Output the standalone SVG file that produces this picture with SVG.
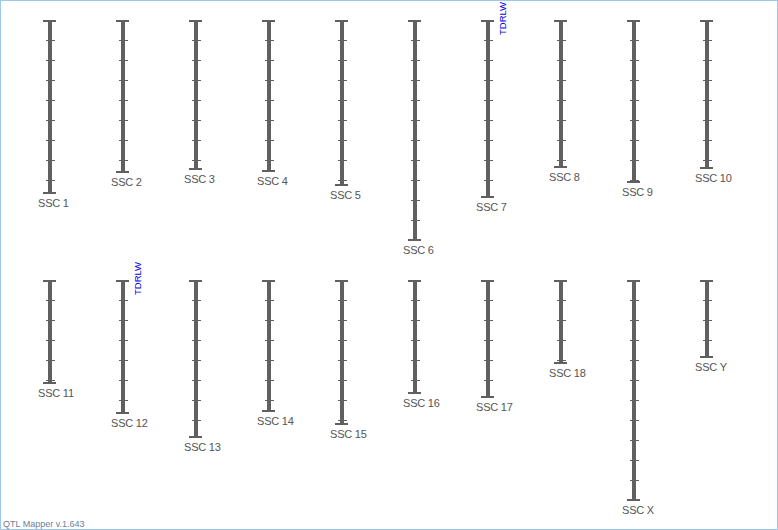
<svg xmlns="http://www.w3.org/2000/svg" width="778" height="530" viewBox="0 0 778 530">
<style>
.bar{fill:#606060}
.tk{stroke:#606060;stroke-width:1;fill:none}
.lbl{font-family:"Liberation Sans",Arial,sans-serif;font-size:11px;fill:#555;letter-spacing:-0.2px}
.qtl{font-family:"Liberation Sans",Arial,sans-serif;font-size:9.5px;fill:#0000ee}
.foot{font-family:"Liberation Sans",Arial,sans-serif;font-size:9px;fill:#687f96}
</style>
<rect x="0.5" y="0.5" width="777" height="529" fill="#fff" stroke="#9cc8ee" stroke-width="1"/>
<g id="connectors"/>
<g id="ssc1"><rect class="bar" x="48" y="20" width="4" height="174"/><rect class="bar" x="43" y="20" width="13" height="2"/><rect class="bar" x="43" y="192" width="13" height="2"/><path class="tk" d="M46 40.5h9M46 60.5h9M46 80.5h9M46 100.5h9M46 120.5h9M46 140.5h9M46 160.5h9M46 180.5h9"/><text class="lbl" x="38" y="207">SSC 1</text></g>
<g id="ssc2"><rect class="bar" x="121" y="20" width="4" height="153"/><rect class="bar" x="116" y="20" width="13" height="2"/><rect class="bar" x="116" y="171" width="13" height="2"/><path class="tk" d="M119 40.5h9M119 60.5h9M119 80.5h9M119 100.5h9M119 120.5h9M119 140.5h9M119 160.5h9"/><text class="lbl" x="111" y="186">SSC 2</text></g>
<g id="ssc3"><rect class="bar" x="194" y="20" width="4" height="150"/><rect class="bar" x="189" y="20" width="13" height="2"/><rect class="bar" x="189" y="168" width="13" height="2"/><path class="tk" d="M192 40.5h9M192 60.5h9M192 80.5h9M192 100.5h9M192 120.5h9M192 140.5h9M192 160.5h9"/><text class="lbl" x="184" y="183">SSC 3</text></g>
<g id="ssc4"><rect class="bar" x="267" y="20" width="4" height="152"/><rect class="bar" x="262" y="20" width="13" height="2"/><rect class="bar" x="262" y="170" width="13" height="2"/><path class="tk" d="M265 40.5h9M265 60.5h9M265 80.5h9M265 100.5h9M265 120.5h9M265 140.5h9M265 160.5h9"/><text class="lbl" x="257" y="185">SSC 4</text></g>
<g id="ssc5"><rect class="bar" x="340" y="20" width="4" height="166"/><rect class="bar" x="335" y="20" width="13" height="2"/><rect class="bar" x="335" y="184" width="13" height="2"/><path class="tk" d="M338 40.5h9M338 60.5h9M338 80.5h9M338 100.5h9M338 120.5h9M338 140.5h9M338 160.5h9M338 180.5h9"/><text class="lbl" x="330" y="199">SSC 5</text></g>
<g id="ssc6"><rect class="bar" x="413" y="20" width="4" height="221"/><rect class="bar" x="408" y="20" width="13" height="2"/><rect class="bar" x="408" y="239" width="13" height="2"/><path class="tk" d="M411 40.5h9M411 60.5h9M411 80.5h9M411 100.5h9M411 120.5h9M411 140.5h9M411 160.5h9M411 180.5h9M411 200.5h9M411 220.5h9"/><text class="lbl" x="403" y="254">SSC 6</text></g>
<g id="ssc7"><rect class="bar" x="486" y="20" width="4" height="178"/><rect class="bar" x="481" y="20" width="13" height="2"/><rect class="bar" x="481" y="196" width="13" height="2"/><path class="tk" d="M484 40.5h9M484 60.5h9M484 80.5h9M484 100.5h9M484 120.5h9M484 140.5h9M484 160.5h9M484 180.5h9"/><text class="lbl" x="476" y="211">SSC 7</text><text class="qtl" transform="translate(505.5 35) rotate(-90)">TDRLW</text></g>
<g id="ssc8"><rect class="bar" x="559" y="20" width="4" height="148"/><rect class="bar" x="554" y="20" width="13" height="2"/><rect class="bar" x="554" y="166" width="13" height="2"/><path class="tk" d="M557 40.5h9M557 60.5h9M557 80.5h9M557 100.5h9M557 120.5h9M557 140.5h9M557 160.5h9"/><text class="lbl" x="549" y="181">SSC 8</text></g>
<g id="ssc9"><rect class="bar" x="632" y="20" width="4" height="163"/><rect class="bar" x="627" y="20" width="13" height="2"/><rect class="bar" x="627" y="181" width="13" height="2"/><path class="tk" d="M630 40.5h9M630 60.5h9M630 80.5h9M630 100.5h9M630 120.5h9M630 140.5h9M630 160.5h9M630 180.5h9"/><text class="lbl" x="622" y="196">SSC 9</text></g>
<g id="ssc10"><rect class="bar" x="705" y="20" width="4" height="149"/><rect class="bar" x="700" y="20" width="13" height="2"/><rect class="bar" x="700" y="167" width="13" height="2"/><path class="tk" d="M703 40.5h9M703 60.5h9M703 80.5h9M703 100.5h9M703 120.5h9M703 140.5h9M703 160.5h9"/><text class="lbl" x="695" y="182">SSC 10</text></g>
<g id="ssc11"><rect class="bar" x="48" y="280" width="4" height="104"/><rect class="bar" x="43" y="280" width="13" height="2"/><rect class="bar" x="43" y="382" width="13" height="2"/><path class="tk" d="M46 300.5h9M46 320.5h9M46 340.5h9M46 360.5h9M46 380.5h9"/><text class="lbl" x="38" y="397">SSC 11</text></g>
<g id="ssc12"><rect class="bar" x="121" y="280" width="4" height="134"/><rect class="bar" x="116" y="280" width="13" height="2"/><rect class="bar" x="116" y="412" width="13" height="2"/><path class="tk" d="M119 300.5h9M119 320.5h9M119 340.5h9M119 360.5h9M119 380.5h9M119 400.5h9"/><text class="lbl" x="111" y="427">SSC 12</text><text class="qtl" transform="translate(140.5 295) rotate(-90)">TDRLW</text></g>
<g id="ssc13"><rect class="bar" x="194" y="280" width="4" height="158"/><rect class="bar" x="189" y="280" width="13" height="2"/><rect class="bar" x="189" y="436" width="13" height="2"/><path class="tk" d="M192 300.5h9M192 320.5h9M192 340.5h9M192 360.5h9M192 380.5h9M192 400.5h9M192 420.5h9"/><text class="lbl" x="184" y="451">SSC 13</text></g>
<g id="ssc14"><rect class="bar" x="267" y="280" width="4" height="132"/><rect class="bar" x="262" y="280" width="13" height="2"/><rect class="bar" x="262" y="410" width="13" height="2"/><path class="tk" d="M265 300.5h9M265 320.5h9M265 340.5h9M265 360.5h9M265 380.5h9M265 400.5h9"/><text class="lbl" x="257" y="425">SSC 14</text></g>
<g id="ssc15"><rect class="bar" x="340" y="280" width="4" height="145"/><rect class="bar" x="335" y="280" width="13" height="2"/><rect class="bar" x="335" y="423" width="13" height="2"/><path class="tk" d="M338 300.5h9M338 320.5h9M338 340.5h9M338 360.5h9M338 380.5h9M338 400.5h9M338 420.5h9"/><text class="lbl" x="330" y="438">SSC 15</text></g>
<g id="ssc16"><rect class="bar" x="413" y="280" width="4" height="114"/><rect class="bar" x="408" y="280" width="13" height="2"/><rect class="bar" x="408" y="392" width="13" height="2"/><path class="tk" d="M411 300.5h9M411 320.5h9M411 340.5h9M411 360.5h9M411 380.5h9"/><text class="lbl" x="403" y="407">SSC 16</text></g>
<g id="ssc17"><rect class="bar" x="486" y="280" width="4" height="118"/><rect class="bar" x="481" y="280" width="13" height="2"/><rect class="bar" x="481" y="396" width="13" height="2"/><path class="tk" d="M484 300.5h9M484 320.5h9M484 340.5h9M484 360.5h9M484 380.5h9"/><text class="lbl" x="476" y="411">SSC 17</text></g>
<g id="ssc18"><rect class="bar" x="559" y="280" width="4" height="84"/><rect class="bar" x="554" y="280" width="13" height="2"/><rect class="bar" x="554" y="362" width="13" height="2"/><path class="tk" d="M557 300.5h9M557 320.5h9M557 340.5h9M557 360.5h9"/><text class="lbl" x="549" y="377">SSC 18</text></g>
<g id="sscX"><rect class="bar" x="632" y="280" width="4" height="221"/><rect class="bar" x="627" y="280" width="13" height="2"/><rect class="bar" x="627" y="499" width="13" height="2"/><path class="tk" d="M630 300.5h9M630 320.5h9M630 340.5h9M630 360.5h9M630 380.5h9M630 400.5h9M630 420.5h9M630 440.5h9M630 460.5h9M630 480.5h9"/><text class="lbl" x="622" y="514">SSC X</text></g>
<g id="sscY"><rect class="bar" x="705" y="280" width="4" height="78"/><rect class="bar" x="700" y="280" width="13" height="2"/><rect class="bar" x="700" y="356" width="13" height="2"/><path class="tk" d="M703 300.5h9M703 320.5h9M703 340.5h9"/><text class="lbl" x="695" y="371">SSC Y</text></g>
<text class="foot" x="3" y="526.5">QTL Mapper v.1.643</text>
</svg>
